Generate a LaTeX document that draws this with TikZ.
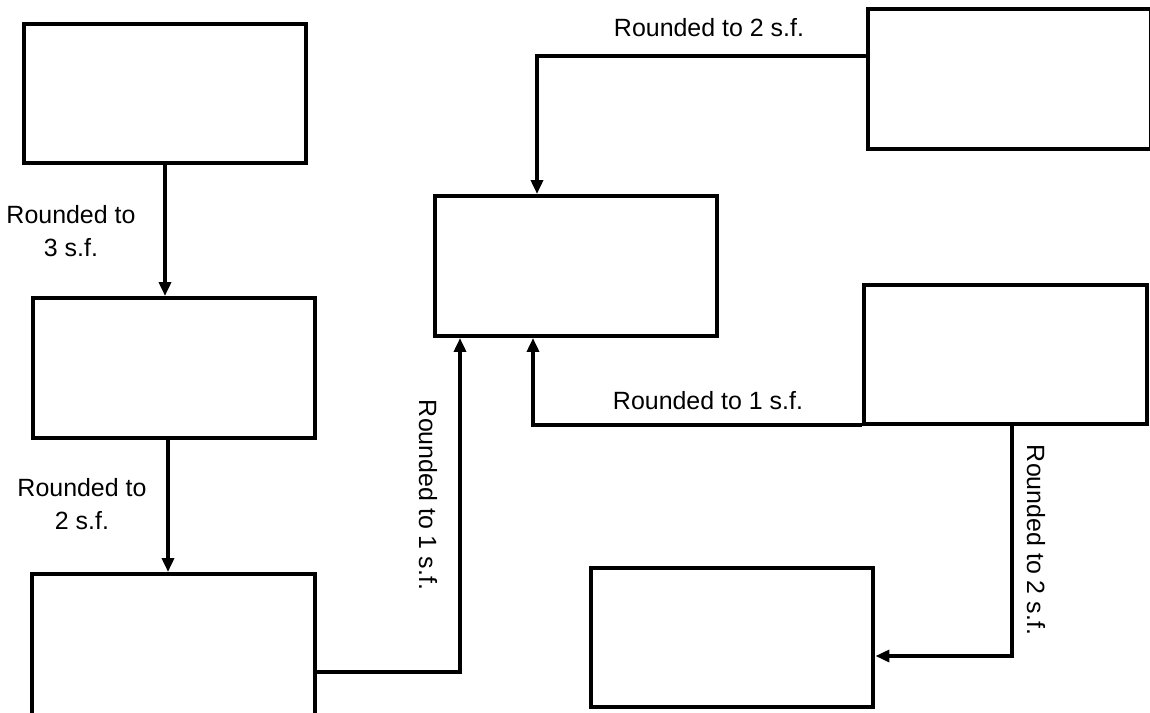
\documentclass[tikz,border=0pt]{standalone}
\usepackage{fontspec}
\setmainfont{Liberation Sans}
\usetikzlibrary{arrows.meta, calc}

\begin{document}
\begin{tikzpicture}[
    x=0.02cm, y=-0.02cm,
    box/.style={rectangle, draw=black, line width=0.08cm, minimum width=5.66cm,
                minimum height=2.8cm, inner sep=0pt},
    arr/.style={-{Triangle[length=0.28cm, width=0.24cm]}, line width=0.07cm, black},
    lbl/.style={font=\fontsize{14.2}{16}\selectfont, align=center, inner sep=0pt}
  ]
  \useasboundingbox (0,0) rectangle (1150,713);
  \node[box] (a) at (165,93.5) {};
  \node[box] (b) at (174,368) {};
  \node[box, minimum height=3.2cm] (c) at (173.5,654) {};
  \node[box] (d) at (576,266) {};
  \node[box] (e) at (1009.5,79) {};
  \node[box] (f) at (1005.5,354.5) {};
  \node[box] (g) at (732,637.5) {};

  \node[lbl] (l3sf) at (71,231) {Rounded to\\[3pt]3 s.f.};
  \node[lbl] (l2sf) at (82,504) {Rounded to\\[3pt]2 s.f.};
  \node[lbl, rotate=-90] (lcd) at (428,495) {Rounded to 1 s.f.};
  \node[lbl] (led) at (709,28) {Rounded to 2 s.f.};
  \node[lbl] (lfd) at (708,401) {Rounded to 1 s.f.};
  \node[lbl, rotate=-90] (lfg) at (1036,540) {Rounded to 2 s.f.};

  \coordinate (cd) at (460,672);
  \coordinate (ed) at (537,56);
  \coordinate (fd) at (533,425);
  \coordinate (fg) at (1012,656);

  \draw[arr] (a.south) -- (a.south |- b.north);
  \draw[arr] ([xshift=-0.12cm]b.south) -- ([xshift=-0.12cm]b.south |- c.north);
  \draw[arr] (c.east |- cd) -- (cd) -- (cd |- d.south);
  \draw[arr] (e.west |- ed) -- (ed) -- (ed |- d.north);
  \draw[arr] (f.west |- fd) -- (fd) -- (fd |- d.south);
  \draw[arr] (f.south -| fg) -- (fg) -- (g.east |- fg);
\end{tikzpicture}
\end{document}
